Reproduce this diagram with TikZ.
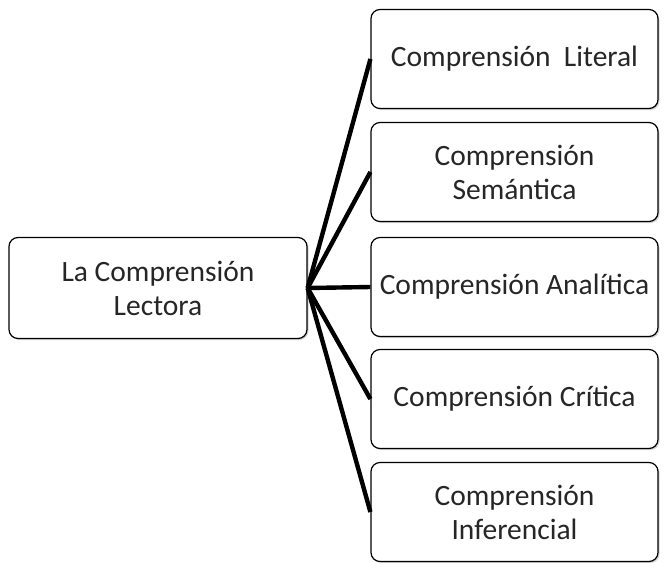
\documentclass[tikz,border=0pt]{standalone}
\usepackage{fontspec}
\setmainfont{Carlito}
\usetikzlibrary{positioning,shadows}

\begin{document}
\begin{tikzpicture}[x=1pt, y=-1pt, font=\fontsize{29.5}{34}\selectfont, line join=round,
		caja/.style={draw, line width=1.2pt, rounded corners=9pt, fill=white, text=black!85, align=center, inner sep=0pt, minimum width=287pt, minimum height=99pt, drop shadow={shadow xshift=1.5pt, shadow yshift=-1.5pt, opacity=0.35}},
		rama/.style={line width=4.4pt}]
	\useasboundingbox (0,0) rectangle (665,563);
	\node[caja, minimum width=298pt, minimum height=101pt] (lectora) at (158,288) {La Comprensión\\Lectora};
	\node[caja] (literal) at (514.5,59) {Comprensión~~Literal};
	\node[caja] (semantica) at (514.5,172) {Comprensión\\Semántica};
	\node[caja] (analitica) at (514.5,287) {Comprensión Analítica};
	\node[caja] (critica) at (514.5,399) {Comprensión Crítica};
	\node[caja] (inferencial) at (514.5,512) {Comprensión\\Inferencial};
	\foreach \n in {literal, semantica, analitica, critica, inferencial}
		\draw[rama] (lectora.east) -- (\n.west);
\end{tikzpicture}
\end{document}
